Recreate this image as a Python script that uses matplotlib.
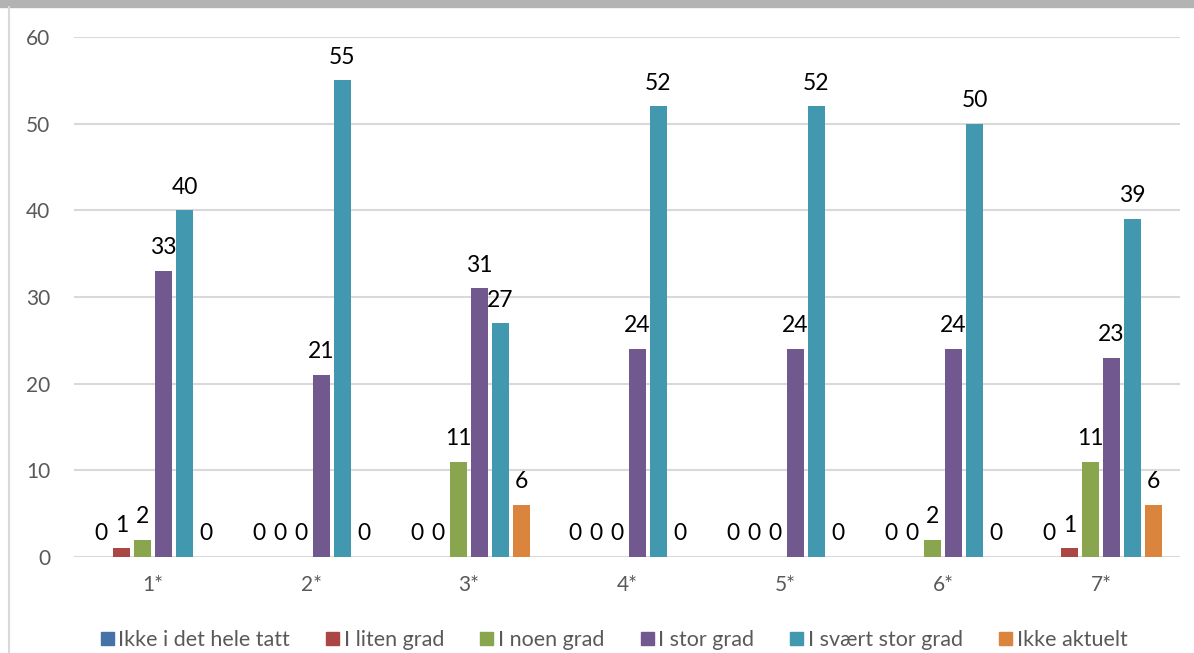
import numpy as np
import matplotlib
matplotlib.use("Agg")
from matplotlib import pyplot as plt
from matplotlib.patches import Rectangle
from matplotlib.lines import Line2D

# Data
categories = ['1*', '2*', '3*', '4*', '5*', '6*', '7*']
series_names = ['Ikke i det hele tatt', 'I liten grad', 'I noen grad',
                'I stor grad', 'I svært stor grad', 'Ikke aktuelt']
ikke_i_det_hele_tatt = [0, 0, 0, 0, 0, 0, 0]
i_liten_grad = [1, 0, 0, 0, 0, 0, 1]
i_noen_grad = [2, 0, 11, 0, 0, 2, 11]
i_stor_grad = [33, 21, 31, 24, 24, 24, 23]
i_svaert_stor_grad = [40, 55, 27, 52, 52, 50, 39]
ikke_aktuelt = [0, 0, 6, 0, 0, 0, 6]
yticks = [0, 10, 20, 30, 40, 50, 60]

series = [ikke_i_det_hele_tatt, i_liten_grad, i_noen_grad,
          i_stor_grad, i_svaert_stor_grad, ikke_aktuelt]
colors = ['#4572A7', '#AA4643', '#89A54E', '#71588F', '#4198AF', '#DB843D']

plt.rcParams['font.family'] = ['Lato', 'DejaVu Sans']

fig = plt.figure(figsize=(11.94, 6.53), dpi=100)
ax = fig.add_axes([74/1194, 1-557/653, (1180-74)/1194, (557-37)/653])

x = np.arange(len(categories))
stride = 0.133
width = 0.108
for i, (vals, col) in enumerate(zip(series, colors)):
    pos = x + (i - 2.5) * stride
    ax.bar(pos, vals, width=width, color=col, zorder=3)
    for px, v in zip(pos, vals):
        ax.annotate(str(v), (px, v), xytext=(0, 9), textcoords='offset points',
                    ha='center', va='bottom', fontsize=16.5, color='black')

ax.set_xlim(-0.5, len(categories) - 0.5)
ax.set_ylim(0, 60)
ax.set_yticks(yticks)
ax.set_xticks(x)
ax.set_xticklabels(categories)
ax.grid(axis='y', color='#d9d9d9', linewidth=1.5, zorder=0)
for s in ax.spines.values():
    s.set_visible(False)
ax.tick_params(axis='both', length=0, labelsize=15, colors='#595959')
ax.tick_params(axis='y', pad=17)
ax.tick_params(axis='x', pad=13)

handles = [Rectangle((0, 0), 1, 1, color=c) for c in colors]
fig.legend(handles, series_names, loc='center', bbox_to_anchor=(614/1194, 1-640/653),
           ncol=6, frameon=False, fontsize=15.5, labelcolor='#595959',
           handlelength=0.6, handleheight=0.6, handletextpad=0.2, columnspacing=1.7)

# frame bits around the chart
fig.patches.append(Rectangle((0, 1-7/653), 1, 7/653, transform=fig.transFigure,
                             color='#b3b3b3', zorder=0))
fig.lines.append(Line2D([9/1194, 9/1194], [0, 1-7/653], transform=fig.transFigure,
                        color='#d9d9d9', linewidth=1.5))

fig.savefig('out.png', dpi=100)
